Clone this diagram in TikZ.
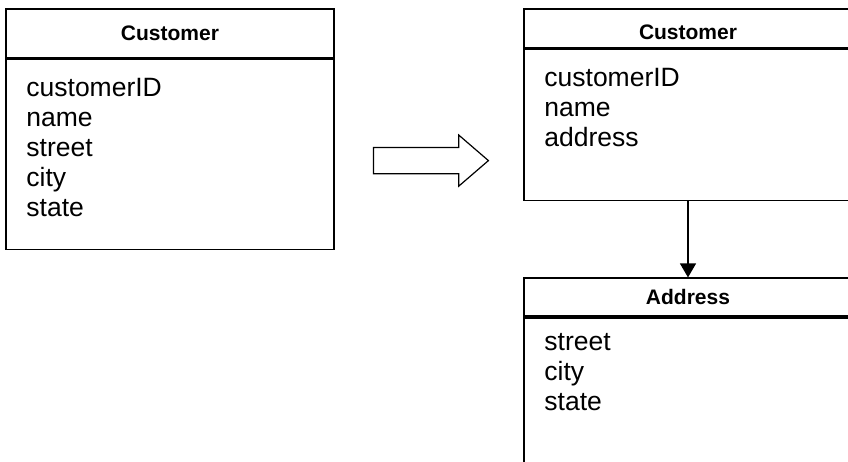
\documentclass[tikz,border=0pt]{standalone}
\usepackage{fontspec}
\setmainfont{Liberation Sans}
\usetikzlibrary{shapes.arrows, arrows.meta, positioning}
\tikzstyle{header} = [rectangle, draw=black, line width=1.6pt, minimum width=328pt, inner sep=0pt, font=\bfseries\fontsize{21}{24}\selectfont]
\tikzstyle{body} = [rectangle, draw=black, line width=1.6pt, minimum width=328pt, inner sep=0pt]
\tikzstyle{attrs} = [align=left, inner sep=0pt, font=\fontsize{26.5}{30}\selectfont, execute at begin node=\strut]

\begin{document}
\begin{tikzpicture}[x=1pt, y=-1pt, >={Triangle[width=16pt,length=14pt]}]
    \clip (0,0) rectangle (848,461);
    \fill[white] (0,0) rectangle (848,461);

    % before
    \node[header, minimum height=49pt] (custA) at (170,33.5) {Customer};
    \node[body, minimum height=190pt, below=0pt of custA] (custAbody) {};
    \node[attrs, below right=19pt and 21pt of custAbody.north west] (custAattrs) {customerID\\name\\street\\city\\state};

    % after
    \node[header, minimum height=39pt, text height=22pt, text depth=0pt] (custB) at (688,28.5) {Customer};
    \node[body, minimum height=151pt, below=0pt of custB] (custBbody) {};
    \node[attrs, below right=19pt and 21pt of custBbody.north west] (custBattrs) {customerID\\name\\address};

    \node[header, minimum height=38pt, below=76pt of custBbody] (addr) {Address};
    \node[body, minimum height=190pt, below=0pt of addr] (addrbody) {};
    \node[attrs, below right=16pt and 21pt of addrbody.north west] (addrattrs) {street\\city\\state};

    \node[single arrow, draw=black, line width=1.2pt, minimum height=115pt,
          single arrow head extend=12.5pt, single arrow tip angle=81.5, inner xsep=0pt, inner ysep=12.5pt,
          anchor=tail, right=38pt of custAbody.east, yshift=-6pt] (change) {};

    \draw [->, line width=1.2pt] (custBbody) -- (addr);

\end{tikzpicture}
\end{document}
